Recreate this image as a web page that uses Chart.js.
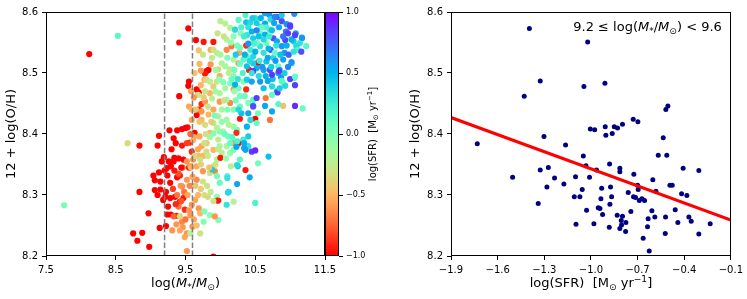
<!DOCTYPE html>
<html>
<head>
<meta charset="utf-8">
<script src="https://cdn.jsdelivr.net/npm/chart.js@4.4.1/dist/chart.umd.min.js"></script>
<style>
  body { margin: 0; background: #fff; width: 747px; height: 299px; overflow: hidden; position: relative; }
  .box { position: absolute; top: 0; }
</style>
</head>
<body>
<div class="box" style="left:0"><canvas id="massChart" width="345" height="299"></canvas></div>
<div class="box" style="left:325px"><canvas id="cbar" width="70" height="299"></canvas></div>
<div class="box" style="left:380px"><canvas id="sfrChart" width="367" height="299"></canvas></div>
<script>
// ticks
const massTicks = [7.5, 8.5, 9.5, 10.5, 11.5];
const ohTicks = [8.2, 8.3, 8.4, 8.5, 8.6];
const sfrTicks = [-1.9, -1.6, -1.3, -1.0, -0.7, -0.4, -0.1];
const cbarTicks = [-1.0, -0.5, 0.0, 0.5, 1.0];
const massCuts = [9.2, 9.6];

// left panel: [log M*, 12+log(O/H), log SFR]
const bandTop = [
  [8.53,8.561,0.15],[9.54,8.573,-1],[9.41,8.550,-1],[9.65,8.554,-1],[9.76,8.551,-0.95],[9.90,8.551,-0.95],
  [10.00,8.585,-0.25],[10.07,8.581,-0.2],[10.14,8.574,-0.2],[10.26,8.587,0.15],[10.37,8.583,0.45],[10.43,8.583,0.35],
  [10.50,8.590,0.3],[10.52,8.582,0.4],[10.59,8.576,0.35],[10.64,8.581,0.55],[10.70,8.596,0.6],[10.72,8.588,0.35],
  [10.77,8.582,0.55],[10.81,8.592,0.8],[10.88,8.585,0.8],[11.00,8.576,0.85],[11.06,8.597,0.6],[10.94,8.568,0.7],
  [10.97,8.565,0.85],[11.08,8.565,0.6],[11.17,8.557,0.55],[11.23,8.544,0.15],[10.93,8.554,0.85],[10.71,8.571,0.3],
  [10.57,8.565,0.1],[10.29,8.565,0.0],[10.19,8.560,-0.05],[10.09,8.555,-0.2],[10.38,8.562,0.3],[10.47,8.557,0.4],
  [10.64,8.563,0.5],[10.76,8.557,0.8],[10.81,8.552,0.55],[11.05,8.552,0.4],[11.14,8.549,0.3],[10.21,8.571,0.35]
];
const bandUpper = [
  [9.80,8.503,-1],[9.83,8.505,-1],[9.78,8.499,-0.95],[10.37,8.545,-0.9],[10.54,8.517,-1],[10.41,8.505,-0.95],
  [9.72,8.504,-0.6],[9.86,8.538,-0.55],[9.69,8.537,-0.45],[9.86,8.514,-0.6],[10.09,8.538,-0.65],[10.27,8.533,-0.55],
  [10.16,8.544,-0.7],[10.26,8.516,-0.6],[9.95,8.533,-0.25],[10.02,8.516,-0.2],[10.19,8.522,-0.15],[10.14,8.506,-0.25],
  [9.97,8.506,-0.35],[9.90,8.538,-0.3],[10.07,8.511,-0.15],[10.28,8.541,0.05],[10.33,8.522,0.15],[10.43,8.538,0.25],
  [10.47,8.527,0.35],[10.38,8.511,0.45],[10.52,8.508,0.5],[10.62,8.533,0.3],[10.66,8.519,0.45],[10.76,8.525,0.35],
  [10.83,8.511,0.1],[10.90,8.522,0.55],[10.92,8.533,0.6],[11.02,8.516,0.45],[11.09,8.544,0.35],[11.11,8.538,0.2],
  [11.16,8.535,0.8],[10.72,8.538,0.8],[10.71,8.505,0.8],[10.62,8.505,0.55],[10.47,8.503,0.85],[10.88,8.544,0.6],
  [10.57,8.544,0.3],[10.66,8.549,0.05],[10.52,8.549,0.1],[10.38,8.527,0.15],[10.47,8.516,0.4],[10.78,8.533,0.1],
  [10.83,8.500,0.55]
];
const bandMid = [
  [9.55,8.486,-1],[9.54,8.479,-1],[9.66,8.473,-1],[9.69,8.468,-1],[9.41,8.462,-1],[9.69,8.440,-0.95],
  [9.73,8.449,-0.9],[9.66,8.431,-1],[10.28,8.425,-0.95],[10.37,8.473,-0.9],[10.50,8.425,-1],[9.53,8.411,-0.95],
  [9.45,8.408,-1],[9.50,8.410,-1],[9.63,8.402,-1],
  [9.55,8.445,-0.55],[9.59,8.440,-0.5],[9.78,8.453,-0.6],[9.85,8.467,-0.5],[9.90,8.440,-0.55],[9.99,8.453,-0.6],
  [9.83,8.432,-0.5],[9.73,8.423,-0.5],[9.59,8.423,-0.55],[10.65,8.459,-0.7],[10.90,8.446,-0.45],[10.71,8.423,-0.7],
  [10.14,8.451,-0.65],[10.19,8.473,-0.6],[9.99,8.495,-0.55],[9.77,8.489,-0.5],[9.90,8.478,-0.4],
  [9.68,8.464,-0.3],[9.80,8.489,-0.35],[9.95,8.486,-0.3],[9.85,8.486,-0.25],[9.78,8.470,-0.3],[9.99,8.467,-0.2],
  [10.07,8.475,-0.15],[9.97,8.429,-0.25],[9.90,8.418,-0.3],[9.78,8.415,-0.35],[10.09,8.423,-0.1],[10.04,8.404,-0.2],
  [10.19,8.412,-0.1],[10.09,8.456,-0.1],[10.19,8.495,-0.05],[10.02,8.440,-0.15],
  [10.14,8.483,0.0],[10.26,8.475,0.05],[10.28,8.462,0.05],[10.19,8.440,0.0],[10.28,8.445,0.1],[10.40,8.451,0.0],
  [10.35,8.462,0.1],[10.47,8.456,0.15],[10.54,8.434,0.05],[10.52,8.418,0.1],[10.24,8.407,0.05],[10.83,8.449,0.15],
  [11.18,8.442,0.1],[10.92,8.480,0.15],[11.06,8.492,0.2],[10.88,8.486,0.05],[10.33,8.486,0.0],
  [10.21,8.481,0.5],[10.38,8.489,0.4],[10.45,8.486,0.55],[10.57,8.486,0.6],[10.62,8.475,0.45],[10.81,8.470,0.5],
  [10.64,8.446,0.55],[10.47,8.446,0.65],[10.40,8.434,0.55],[10.38,8.412,0.5],[10.30,8.434,0.45],[10.26,8.440,0.35],
  [10.43,8.423,0.35],[10.87,8.493,0.6],[11.00,8.490,0.85],[11.07,8.480,0.85],[11.07,8.446,0.9],[10.52,8.459,0.85],
  [10.47,8.445,0.8],[10.74,8.478,0.35]
];
const bandLower = [
  [8.84,8.381,-1],[9.10,8.381,-1],[9.12,8.397,-1],[9.27,8.406,-1],[9.38,8.406,-1],[9.45,8.381,-0.95],
  [9.56,8.386,-0.9],[9.33,8.393,-1],[9.04,8.332,-1],[9.12,8.337,-1],[9.06,8.324,-1],[9.14,8.322,-1],
  [9.06,8.308,-1],[9.14,8.309,-1],[9.23,8.344,-1],[9.29,8.347,-1],[9.33,8.355,-1],[9.24,8.332,-1],
  [9.38,8.329,-1],[9.42,8.332,-0.95],[9.47,8.358,-1],[9.55,8.345,-0.95],[9.34,8.361,-1],[9.19,8.362,-1],
  [9.59,8.371,-0.9],[8.84,8.305,-1],[10.26,8.385,-0.95],[10.23,8.402,-0.9],[10.36,8.341,-0.95],
  [9.52,8.325,-0.6],[9.45,8.314,-0.65],[9.61,8.358,-0.6],[9.68,8.364,-0.5],[9.73,8.380,-0.55],[9.66,8.347,-0.55],
  [9.75,8.364,-0.5],[9.85,8.402,-0.5],[9.80,8.385,-0.45],[9.90,8.374,-0.5],[9.75,8.339,-0.6],[9.66,8.325,-0.65],
  [9.57,8.347,-0.6],[9.61,8.390,-0.5],[9.70,8.396,-0.55],[9.92,8.339,-0.65],[10.19,8.385,-0.6],
  [9.63,8.364,-0.35],[9.71,8.358,-0.3],[9.80,8.371,-0.35],[9.97,8.391,-0.25],[9.95,8.358,-0.2],[10.02,8.369,-0.2],
  [9.90,8.347,-0.3],[9.85,8.336,-0.3],[9.75,8.322,-0.3],[9.82,8.364,-0.25],[10.15,8.347,-0.2],[10.09,8.380,-0.15],
  [10.14,8.369,-0.1],[9.99,8.380,-0.15],
  [9.99,8.404,0.0],[10.11,8.396,0.05],[10.14,8.385,0.1],[10.19,8.374,0.05],[9.95,8.331,0.05],[9.99,8.320,0.1],
  [10.10,8.331,0.15],[10.24,8.388,0.2],[10.33,8.391,0.25],[10.40,8.380,0.3],[10.28,8.358,0.15],[10.54,8.352,0.05],
  [10.40,8.396,0.4],[10.36,8.374,0.55],[10.45,8.371,0.85],[10.50,8.373,0.9],[10.69,8.363,0.45],[10.25,8.347,0.4],
  [10.24,8.318,0.55],[10.11,8.304,0.4],[10.42,8.329,0.55],[9.90,8.401,0.0],
  [10.34,8.377,0.55],[10.34,8.385,0.5],[10.23,8.379,0.55],[10.24,8.349,0.35],[10.12,8.305,0.35],[10.00,8.361,-0.95],
  [10.10,8.328,0.3],[9.88,8.342,0.4]
];
const bandBottom = [
  [7.76,8.283,0.05],[8.12,8.531,-1],[8.67,8.385,-0.35],
  [8.97,8.270,-1],[8.75,8.237,-1],[8.81,8.225,-1],[8.88,8.238,-1],[8.98,8.215,-1],[9.13,8.246,-1],
  [9.22,8.249,-1],[9.24,8.268,-1],[9.29,8.268,-1],[9.28,8.295,-1],[9.25,8.281,-1],[9.35,8.297,-1],
  [9.42,8.289,-0.95],[9.49,8.276,-0.9],[9.47,8.295,-0.95],[9.21,8.297,-1],[9.90,8.199,-1],[9.97,8.291,-0.9],
  [9.37,8.266,-0.95],[9.18,8.292,-1],
  [9.31,8.242,-0.6],[9.45,8.256,-0.65],[9.52,8.237,-0.6],[9.49,8.231,-0.55],[9.52,8.208,-0.6],[9.46,8.247,-0.6],
  [9.59,8.284,-0.6],[9.57,8.267,-0.6],[9.64,8.292,-0.55],[9.69,8.278,-0.6],[9.71,8.270,-0.5],[9.40,8.281,-0.7],
  [9.33,8.265,-0.75],[9.42,8.242,-0.55],[9.60,8.248,-0.6],[9.37,8.252,-0.6],
  [9.42,8.265,-0.35],[9.57,8.237,-0.2],[9.82,8.297,-0.35],[9.77,8.273,0.0],[9.76,8.256,0.0],[9.95,8.297,-0.05],
  [9.97,8.259,0.0],[10.19,8.289,-0.2],[10.09,8.284,0.3],[10.50,8.287,0.2],[9.85,8.267,-0.05],[9.71,8.237,-0.3],
  [9.92,8.265,-0.6],[9.96,8.291,-0.95]
];
const cloudFill = [
  [10.30,8.575,0.2],[10.34,8.560,0.25],[10.40,8.575,0.3],[10.45,8.568,0.5],[10.48,8.548,0.2],[10.55,8.560,0.45],
  [10.58,8.590,0.5],[10.62,8.555,0.35],[10.66,8.575,0.2],[10.69,8.540,0.5],[10.74,8.570,0.45],[10.78,8.592,0.65],
  [10.80,8.545,0.3],[10.84,8.575,0.55],[10.86,8.530,0.45],[10.90,8.560,0.7],[10.95,8.545,0.5],[10.98,8.530,0.75],
  [11.02,8.555,0.5],[11.05,8.535,0.3],[10.35,8.530,0.5],[10.42,8.520,0.35],[10.50,8.535,0.5],[10.56,8.520,0.25],
  [10.60,8.510,0.6],[10.68,8.525,0.55],[10.73,8.510,0.4],[10.79,8.520,0.6],[10.85,8.505,0.5],[10.92,8.500,0.4],
  [10.97,8.510,0.65],[10.55,8.495,0.35],[10.65,8.495,0.5],[10.75,8.490,0.45],[10.45,8.500,0.3],[10.32,8.500,0.2],
  [10.28,8.515,0.1],[10.24,8.545,0.05],[10.22,8.530,0.4],[10.40,8.548,0.6],[10.60,8.575,0.1],[10.70,8.560,0.25],
  [10.88,8.595,0.4],[10.95,8.580,0.6],[10.52,8.570,0.65],[10.64,8.598,0.55],[10.46,8.590,0.4],[10.36,8.595,0.2],
  [11.17,8.558,0.6],[11.07,8.562,0.85],[11.00,8.578,0.85],[11.07,8.494,0.1],[10.74,8.437,0.55],[10.82,8.468,0.85],
  [10.74,8.464,0.1],[10.85,8.475,0.4],[10.93,8.479,0.35],[10.88,8.487,0.15],[10.74,8.497,0.85],[11.02,8.518,0.6],
  [10.84,8.503,0.85],[10.68,8.487,0.55]
];
const centreFill = [
  [9.72,8.480,-0.5],[9.76,8.460,-0.4],[9.82,8.445,-0.3],[9.88,8.458,-0.2],[9.93,8.470,-0.1],[9.98,8.490,-0.05],
  [10.04,8.485,0.0],[10.05,8.455,-0.3],[10.10,8.440,0.0],[10.12,8.500,-0.25],[10.16,8.490,0.1],[10.20,8.470,-0.1],
  [10.22,8.455,0.05],[10.02,8.420,-0.05],[9.95,8.410,-0.2],[9.87,8.420,-0.4],[9.92,8.430,0.05],[9.79,8.400,-0.3],
  [9.70,8.420,-0.45],[9.65,8.440,-0.45],[9.73,8.437,-0.6],[9.85,8.395,-0.15],[9.97,8.375,-0.25],[10.06,8.400,0.1],
  [10.12,8.415,-0.2],[10.17,8.395,0.15],[10.08,8.360,-0.1],[9.93,8.350,-0.3],[9.84,8.345,-0.45],[9.72,8.350,-0.4],
  [9.68,8.375,-0.55],[9.77,8.385,-0.3],[9.62,8.460,-0.6],[9.58,8.470,-0.55],[9.63,8.500,-0.45],[9.70,8.515,-0.5],
  [9.75,8.530,-0.3],[9.88,8.525,-0.25],[9.93,8.505,-0.1],[10.00,8.530,-0.15],[10.10,8.525,0.0],[10.15,8.550,-0.1],
  [10.05,8.560,-0.3],[9.96,8.565,-0.3],[10.20,8.505,0.05],[10.25,8.490,0.3]
];
const lowerFill = [
  [9.32,8.310,-0.85],[9.38,8.300,-0.7],[9.43,8.315,-0.6],[9.48,8.305,-0.7],[9.53,8.300,-0.55],[9.56,8.315,-0.65],
  [9.60,8.330,-0.55],[9.64,8.315,-0.45],[9.68,8.300,-0.5],[9.72,8.310,-0.4],[9.77,8.300,-0.35],[9.81,8.315,-0.3],
  [9.86,8.305,-0.25],[9.90,8.290,-0.3],[9.55,8.275,-0.6],[9.62,8.260,-0.55],[9.66,8.250,-0.45],[9.50,8.260,-0.7],
  [9.44,8.290,-0.8],[9.36,8.285,-0.9],[9.40,8.335,-0.8],[9.46,8.345,-0.7],[9.52,8.355,-0.6],[9.58,8.345,-0.5],
  [9.62,8.395,-0.55],[9.57,8.400,-0.75],[9.52,8.385,-0.85],
  [9.20,8.340,-1],[9.26,8.355,-1],[9.30,8.375,-1],[9.36,8.385,-1],[9.40,8.360,-1],[9.44,8.345,-1],
  [9.16,8.355,-1],[9.28,8.320,-1],[9.34,8.340,-0.95],[9.10,8.300,-1],[9.22,8.305,-1]
];

// right panel: galaxies with 9.2 <= log M* < 9.6
const binSfr = [
  -1.396,-1.021,-1.326,-1.429,-1.045,-0.910,-1.731,-1.504,-1.302,-1.326,
  -1.274,-1.283,-1.234,-1.339,-1.163,-1.174,-1.099,-1.107,-1.071,-1.096,
  -1.049,-1.056,-1.032,-1.028,-1.009,-1.004,-0.976,-0.964,-0.981,-0.953,
  -0.942,-0.936,-0.931,-0.925,-0.908,-0.904,-0.880,-0.874,-0.867,-0.878,
  -0.882,-0.863,-0.850,-0.829,-0.797,-0.814,-0.814,-0.831,-0.805,-0.797,
  -0.814,-0.803,-0.775,-0.777,-0.760,-0.743,-0.728,-0.724,-0.726,-0.713,
  -0.700,-0.698,-0.696,-0.689,-0.672,-0.655,-0.664,-0.625,-0.632,-0.636,
  -0.608,-0.602,-0.589,-0.582,-0.567,-0.535,-0.518,-0.505,-0.512,-0.520,
  -0.522,-0.492,-0.477,-0.458,-0.441,-0.417,-0.407,-0.383,-0.370,-0.355,
  -0.306,-0.306,-0.233
];
const binOH = [
  8.573,8.551,8.487,8.462,8.478,8.483,8.384,8.329,8.396,8.341,
  8.345,8.313,8.328,8.286,8.382,8.318,8.330,8.297,8.297,8.252,
  8.364,8.309,8.348,8.275,8.329,8.408,8.407,8.341,8.253,8.279,
  8.278,8.294,8.311,8.268,8.412,8.398,8.351,8.313,8.297,8.285,
  8.247,8.401,8.412,8.410,8.416,8.344,8.338,8.267,8.258,8.265,
  8.245,8.251,8.255,8.240,8.304,8.273,8.424,8.334,8.297,8.296,
  8.316,8.420,8.309,8.291,8.294,8.291,8.229,8.208,8.261,8.248,
  8.274,8.325,8.264,8.306,8.365,8.394,8.440,8.446,8.365,8.264,
  8.237,8.316,8.316,8.276,8.255,8.302,8.344,8.299,8.264,8.257,
  8.340,8.236,8.253
];
const fitSfr = [-1.9, -0.1];
const fitOH = [8.427, 8.259];

const leftPts = [].concat(bandTop, bandUpper, bandMid, bandLower, bandBottom, cloudFill, centreFill, lowerFill);

Chart.defaults.font.family = '"DejaVu Sans", sans-serif';
Chart.defaults.color = '#000';
Chart.defaults.animation = false;

// matplotlib "rainbow" reversed, vmin -1, vmax 1
function rainbowR(v) {
  let t = (1 - v) / 2;
  t = Math.max(0, Math.min(1, t));
  const r = Math.min(1, Math.abs(2 * t - 0.5));
  const g = Math.sin(Math.PI * t);
  const b = Math.cos(Math.PI * t / 2);
  return `rgb(${Math.round(r * 255)},${Math.round(g * 255)},${Math.round(b * 255)})`;
}
const fmt = v => v.toFixed(1).replace('-', '\u2212');

function drawRich(ctx, parts, x, y, size, align) {
  const fontOf = p => `${p.it ? 'italic ' : ''}${(p.sub || p.sup) ? size * 0.7 : size}px "DejaVu Sans"`;
  let w = 0;
  parts.forEach(p => { ctx.font = fontOf(p); p.w = ctx.measureText(p.t).width; w += p.w; });
  let cx = align === 'center' ? x - w / 2 : align === 'right' ? x - w : x;
  ctx.fillStyle = '#000';
  ctx.textAlign = 'left';
  ctx.textBaseline = 'alphabetic';
  parts.forEach(p => {
    ctx.font = fontOf(p);
    const dy = p.sub ? size * 0.2 : p.sup ? -size * 0.4 : 0;
    ctx.fillText(p.t, cx, y + dy);
    cx += p.w;
  });
}

const frame = {
  id: 'frame',
  afterDraw(c) {
    const a = c.chartArea, ctx = c.ctx;
    ctx.save();
    ctx.strokeStyle = '#000';
    ctx.lineWidth = 1;
    ctx.strokeRect(Math.round(a.left) + 0.5, Math.round(a.top) + 0.5, Math.round(a.right - a.left) - 1, Math.round(a.bottom - a.top) - 1);
    ctx.restore();
  }
};

function axis(ticks, fit, extra) {
  return Object.assign({
    type: 'linear',
    min: ticks[0],
    max: ticks[ticks.length - 1],
    afterBuildTicks: s => { s.ticks = ticks.map(v => ({ value: v })); },
    afterFit: fit,
    grid: { drawOnChartArea: false, drawTicks: true, tickLength: 4, color: '#000', lineWidth: 1 },
    border: { display: false },
    ticks: { font: { size: 10 }, padding: 4, maxRotation: 0, autoSkip: false, callback: v => fmt(v) }
  }, extra || {});
}

const yTitle = { display: true, text: '12 + log(O/H)', font: { size: 13 }, padding: { top: 4, bottom: 0 } };

// left: mass-metallicity coloured by SFR
new Chart(document.getElementById('massChart'), {
  type: 'scatter',
  data: {
    datasets: [
      { data: [{ x: massCuts[0], y: ohTicks[0] }, { x: massCuts[0], y: ohTicks[4] }], showLine: true,
        borderColor: '#808080', borderWidth: 1.5, borderDash: [5.5, 2.4], pointRadius: 0 },
      { data: [{ x: massCuts[1], y: ohTicks[0] }, { x: massCuts[1], y: ohTicks[4] }], showLine: true,
        borderColor: '#808080', borderWidth: 1.5, borderDash: [5.5, 2.4], pointRadius: 0 },
      { data: leftPts.map(p => ({ x: p[0], y: p[1] })), backgroundColor: leftPts.map(p => rainbowR(p[2])),
        pointRadius: 3.1, borderWidth: 0 }
    ]
  },
  options: {
    responsive: false,
    layout: { padding: { top: 12, right: 20, left: 0, bottom: 0 } },
    plugins: { legend: { display: false }, tooltip: { enabled: false } },
    scales: {
      x: axis(massTicks, s => { s.height = 43; }),
      y: axis(ohTicks, s => { s.width = 46; }, { title: yTitle })
    }
  },
  plugins: [frame, {
    id: 'xlabel',
    afterDraw(c) {
      const a = c.chartArea;
      drawRich(c.ctx, [{ t: 'log(' }, { t: 'M', it: true }, { t: '*', sub: true }, { t: '/' },
        { t: 'M', it: true }, { t: '\u2299', sub: true }, { t: ')' }], (a.left + a.right) / 2, 287, 13, 'center');
    }
  }]
});

// colour bar
new Chart(document.getElementById('cbar'), {
  type: 'scatter',
  data: { datasets: [{ data: [] }] },
  options: {
    responsive: false,
    layout: { padding: { top: 12, right: 0, left: 0, bottom: 43 } },
    plugins: { legend: { display: false }, tooltip: { enabled: false } },
    scales: {
      x: { display: false, min: 0, max: 1 },
      y: axis(cbarTicks, s => { s.width = 56; }, {
        position: 'right',
        ticks: { font: { size: 8 }, padding: 3, autoSkip: false, callback: v => fmt(v) }
      })
    }
  },
  plugins: [{
    id: 'gradient',
    beforeDatasetsDraw(c) {
      const a = c.chartArea, ctx = c.ctx, ys = c.scales.y;
      const y0 = ys.getPixelForValue(cbarTicks[0]), y1 = ys.getPixelForValue(cbarTicks[4]);
      const g = ctx.createLinearGradient(0, y0, 0, y1);
      for (let i = 0; i <= 40; i++) {
        g.addColorStop(i / 40, rainbowR(cbarTicks[0] + (cbarTicks[4] - cbarTicks[0]) * i / 40));
      }
      ctx.save();
      ctx.fillStyle = g;
      ctx.fillRect(a.left, a.top, a.right - a.left, a.bottom - a.top);
      ctx.restore();
    },
    afterDraw(c) {
      const a = c.chartArea, ctx = c.ctx;
      ctx.save();
      ctx.translate(51, (a.top + a.bottom) / 2);
      ctx.rotate(-Math.PI / 2);
      drawRich(ctx, [{ t: 'log(SFR)  [M' }, { t: '\u2299', sub: true }, { t: ' yr' }, { t: '\u22121', sup: true }, { t: ']' }],
        0, 0, 10, 'center');
      ctx.restore();
    }
  }, frame]
});

// right: metallicity vs SFR in one mass bin
new Chart(document.getElementById('sfrChart'), {
  type: 'scatter',
  data: {
    datasets: [
      { data: fitSfr.map((x, i) => ({ x, y: fitOH[i] })), showLine: true, borderColor: '#ff0000', borderWidth: 3, pointRadius: 0 },
      { data: binSfr.map((x, i) => ({ x, y: binOH[i] })), backgroundColor: '#000080', pointRadius: 2.5, borderWidth: 0 }
    ]
  },
  options: {
    responsive: false,
    layout: { padding: { top: 12, right: 16, left: 24, bottom: 0 } },
    plugins: { legend: { display: false }, tooltip: { enabled: false } },
    scales: {
      x: axis(sfrTicks, s => { s.height = 43; }),
      y: axis(ohTicks, s => { s.width = 47; }, { title: yTitle })
    }
  },
  plugins: [frame, {
    id: 'labels',
    afterDraw(c) {
      const a = c.chartArea, ctx = c.ctx;
      drawRich(ctx, [{ t: 'log(SFR)  [M' }, { t: '\u2299', sub: true }, { t: ' yr' }, { t: '\u22121', sup: true }, { t: ']' }],
        (a.left + a.right) / 2, 287, 13, 'center');
      drawRich(ctx, [{ t: '9.2 \u2264 log(' }, { t: 'M', it: true }, { t: '*', sub: true }, { t: '/' },
        { t: 'M', it: true }, { t: '\u2299', sub: true }, { t: ') < 9.6' }], a.right - 9, 31, 13, 'right');
    }
  }]
});
</script>
</body>
</html>
